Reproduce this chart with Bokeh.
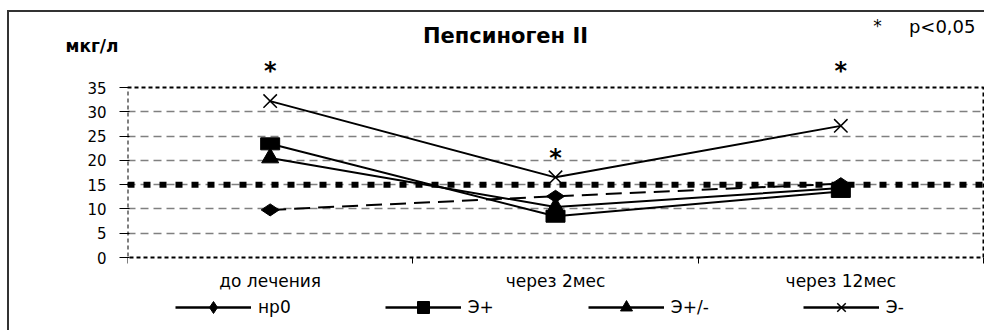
import math
from bokeh.plotting import figure
from bokeh.models import (Range1d, FixedTicker, Span, Label, Legend, LegendItem,
                          LinearAxis, BoxAnnotation)
from bokeh.core.properties import value
from bokeh.embed import file_html
from bokeh.resources import INLINE

# ---- data ----
categories = ["до лечения", "через 2мес", "через 12мес"]
series_names = ["нр0", "Э+", "Э+/-", "Э-"]
hp0 = [9.8, 12.6, 15.2]
e_plus = [23.4, 8.5, 13.6]
e_pm = [20.5, 10.4, 14.3]
e_minus = [32.2, 16.5, 27.1]
threshold = 15.0
y_ticks = [0, 5, 10, 15, 20, 25, 30, 35]
grid_ticks = [5, 10, 15, 20, 25, 30]
star_y = [38.3, 20.4, 38.3]
title_text = "Пепсиноген II"
unit_text = "мкг/л"
note_star = "*"
note_text = "p<0,05"

FONT = "DejaVu Sans"

# ---- layout (page pixels) ----
OX, OY = 9, 12                 # canvas origin on the page (margin + border)
W, H = 977, 320
PLOT_L, PLOT_R = 127, 983      # plot area left/right
FRAME_R = 986
Y0_PX, Y35_PX = 257, 87        # pixel rows of value 0 and 35
FRAME_BOTTOM_PX = 322
PPU = (Y0_PX - Y35_PX) / y_ticks[-1]
y_lo = (Y0_PX - FRAME_BOTTOM_PX) / PPU
y_hi = (Y0_PX - OY) / PPU


def px_to_x(px):
    return (px - PLOT_L) / (PLOT_R - PLOT_L) * len(categories)


def py_to_y(py):
    return (Y0_PX - py) / PPU


p = figure(width=W, height=H, output_backend="svg", toolbar_location=None,
           x_range=Range1d(0, px_to_x(FRAME_R)), y_range=Range1d(y_lo, y_hi),
           min_border_left=PLOT_L - OX, min_border_right=OX + W - FRAME_R,
           min_border_top=0, min_border_bottom=OY + H - FRAME_BOTTOM_PX)
p.styles = {"margin-left": "7px", "margin-top": "10px",
            "border-left": "2px solid #333", "border-top": "2px solid #333"}
p.background_fill_color = "white"
p.border_fill_color = "white"
p.outline_line_color = None

xs = [i + 0.5 for i in range(len(categories))]

# x axis: drawn at y = 0 inside the tall frame, boundary ticks only
p.xaxis.fixed_location = 0
p.xaxis.ticker = FixedTicker(ticks=xs, minor_ticks=list(range(len(categories) + 1)))
p.xaxis.major_label_overrides = {x: "" for x in xs}
p.xaxis.major_label_text_font_size = "1px"
p.xaxis.major_label_standoff = 0
p.xaxis.major_tick_out = 0
p.xaxis.major_tick_in = 0
p.xaxis.minor_tick_out = 6
p.xaxis.minor_tick_in = 0
p.xaxis.minor_tick_line_color = "black"
p.xaxis.axis_line_color = None

# category labels
p.text(x=xs, y=[py_to_y(280)] * len(xs), text=categories, text_font=value(FONT),
       text_font_size="17px", text_align="center", text_baseline="middle", text_color="black")

# y axis
p.yaxis.ticker = FixedTicker(ticks=y_ticks)
p.yaxis.major_tick_out = 8
p.yaxis.major_tick_in = 2
p.yaxis.major_tick_line_color = "black"
p.yaxis.minor_tick_line_color = None
p.yaxis.major_label_standoff = 13
p.yaxis.major_label_text_font = FONT
p.yaxis.major_label_text_font_size = "15px"
p.yaxis.major_label_text_color = "black"
p.yaxis.axis_line_color = None

# unit label as a second left axis with a single labelled tick
y_unit = py_to_y(45)
unit_axis = LinearAxis(ticker=FixedTicker(ticks=[y_unit]),
                       major_label_overrides={y_unit: unit_text},
                       major_tick_out=0, major_tick_in=0, minor_tick_out=0, minor_tick_in=0,
                       axis_line_color=None, major_label_standoff=-34,
                       major_label_text_font=FONT, major_label_text_font_style="bold",
                       major_label_text_font_size="17px", major_label_text_color="black")
p.add_layout(unit_axis, "left")

p.xgrid.visible = False
p.ygrid.ticker = FixedTicker(ticks=grid_ticks)
p.ygrid.grid_line_color = "#808080"
p.ygrid.grid_line_width = 1.5
p.ygrid.grid_line_dash = "8 5"

# threshold line
p.add_layout(Span(location=threshold, dimension="width", line_color="black",
                  line_width=6, line_dash="7 9", level="underlay"))

# plot area border (dotted)
p.add_layout(BoxAnnotation(left=0, right=len(categories), bottom=y_ticks[0], top=y_ticks[-1],
                           fill_color=None, fill_alpha=0, line_color="black", line_alpha=1.0,
                           line_width=2, line_dash="4 3"))

# series lines
p.line(xs, hp0, line_color="black", line_width=2, line_dash="16 8")
p.line(xs, e_plus, line_color="black", line_width=2)
p.line(xs, e_pm, line_color="black", line_width=2)
p.line(xs, e_minus, line_color="black", line_width=2)

# markers
p.scatter(xs, hp0, marker="diamond", size=18, angle=math.pi / 2, color="black")
p.rect(xs, e_plus, width=19, height=12, width_units="screen", height_units="screen", color="black")
p.scatter(xs, e_pm, marker="triangle", size=17, color="black")
p.scatter(xs, e_minus, marker="x", size=19, line_color="black", line_width=1.5)

# significance stars
for x, y in zip(xs, star_y):
    p.add_layout(Label(x=x, y=y, text="*", text_font=FONT, text_font_style="bold",
                       text_font_size="24px", text_align="center", text_baseline="middle",
                       text_color="black"))

# title and note
p.add_layout(Label(x=px_to_x(505), y=py_to_y(35), text=title_text,
                   text_font=FONT, text_font_style="bold", text_font_size="21px",
                   text_align="center", text_baseline="middle", text_color="black"))
p.add_layout(Label(x=px_to_x(877), y=py_to_y(25), text=note_star,
                   text_font=FONT, text_font_size="17px",
                   text_align="center", text_baseline="middle", text_color="black"))
p.add_layout(Label(x=px_to_x(975), y=py_to_y(26), text=note_text,
                   text_font=FONT, text_font_size="18px",
                   text_align="right", text_baseline="middle", text_color="black"))

# legend (dedicated sample renderers, no visible data)
nan = float("nan")
items = []
for name, mk in zip(series_names, ["diamond", "square", "triangle", "x"]):
    lr = p.line(x=[nan, nan], y=[nan, nan], line_color="black", line_width=2.5)
    if mk == "x":
        mr = p.scatter(x=[nan], y=[nan], marker=mk, size=12, line_color="black", line_width=1.5)
    else:
        mr = p.scatter(x=[nan], y=[nan], marker=mk, size=12, color="black")
    items.append(LegendItem(label=name, renderers=[lr, mr]))

legend = Legend(items=items, orientation="horizontal", location=(175 - PLOT_L, 0),
                glyph_width=76, glyph_height=30, label_standoff=7, spacing=94,
                padding=0, margin=0, border_line_alpha=0, background_fill_alpha=0,
                label_text_font=FONT, label_text_font_size="17px", label_text_color="black")
p.add_layout(legend, "center")

open("out.html", "w").write(file_html(p, INLINE))
